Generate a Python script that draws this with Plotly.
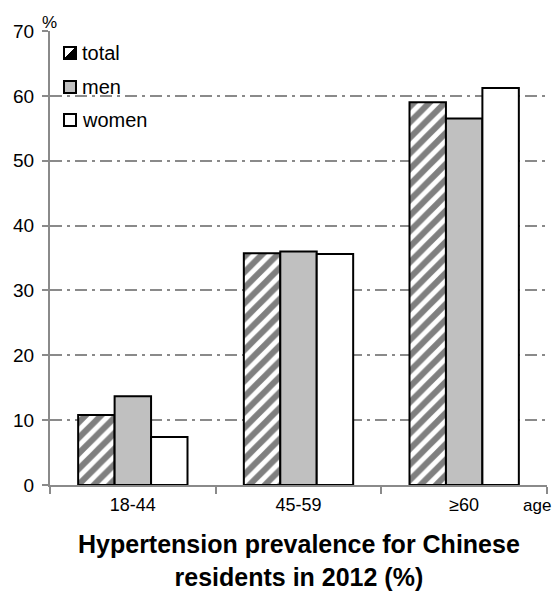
import plotly.graph_objects as go

categories = ["18-44", "45-59", "≥60"]
total = [10.8, 35.75, 59.0]
men = [13.7, 36.0, 56.5]
women = [7.4, 35.6, 61.2]
series_names = ["total", "men", "women"]

FONT = "Liberation Sans, Arial, sans-serif"
GRAY = "#8a8a8a"

fig = go.Figure()
fig.add_trace(go.Bar(
    x=categories, y=total, name=series_names[0],
    marker=dict(color="white", line=dict(color="black", width=2),
                pattern=dict(shape="/", fgcolor="black", bgcolor="white", size=11, solidity=0.55)),
))
fig.add_trace(go.Bar(
    x=categories, y=men, name=series_names[1],
    marker=dict(color="#c0c0c0", line=dict(color="black", width=2)),
))
fig.add_trace(go.Bar(
    x=categories, y=women, name=series_names[2],
    marker=dict(color="white", line=dict(color="black", width=2)),
))

fig.update_layout(
    width=553, height=592,
    margin=dict(l=50, r=6, t=31, b=107),
    plot_bgcolor="white", paper_bgcolor="white",
    font=dict(family=FONT, color="black", size=18),
    barmode="group", bargap=0.34, bargroupgap=0,
    showlegend=False,
    xaxis=dict(showline=True, linecolor=GRAY, linewidth=2,
               ticks="outside", tickson="boundaries", ticklen=7, tickcolor=GRAY,
               tickwidth=2, tickfont=dict(size=18), ticklabelstandoff=2),
    yaxis=dict(range=[0, 70], dtick=10, showline=True, linecolor=GRAY, linewidth=2,
               ticks="outside", ticklen=6, tickcolor=GRAY, tickwidth=2,
               showgrid=True, gridcolor=GRAY, gridwidth=2, griddash="12px,5px,3px,5px",
               tickfont=dict(size=19), zeroline=False, ticklabelstandoff=4),
)

# legend (drawn as swatches + text in the top-left of the plot)
rows = [22, 56, 89]
swatch_fill = ["white", "#c0c0c0", "white"]
for i, (name, r) in enumerate(zip(series_names, rows)):
    fig.add_shape(type="rect", xref="paper", yref="paper", xsizemode="pixel", ysizemode="pixel",
                  xanchor=0, yanchor=1, x0=14, x1=26, y0=-r - 6, y1=-r + 6,
                  fillcolor=swatch_fill[i], line=dict(color="black", width=2))
    if i == 0:
        fig.add_shape(type="path", xref="paper", yref="paper", xsizemode="pixel", ysizemode="pixel",
                      xanchor=0, yanchor=1,
                      path=f"M 14 {-r-6} L 26 {-r-6} L 26 {-r+6} Z",
                      fillcolor="black", line=dict(color="black", width=1))
    fig.add_annotation(x=0, y=1, xref="paper", yref="paper", text=name, showarrow=False,
                       xanchor="left", yanchor="middle", xshift=30, yshift=-r,
                       font=dict(size=20))

fig.add_annotation(x=0, y=1, xref="paper", yref="paper", text="%", showarrow=False,
                   xanchor="center", yanchor="middle", xshift=-1, yshift=9, font=dict(size=17))
fig.add_annotation(x=1, y=0, xref="paper", yref="paper", text="age", showarrow=False,
                   xanchor="right", yanchor="middle", xshift=6, yshift=-20, font=dict(size=17))
fig.add_annotation(x=0.5, y=0, xref="paper", yref="paper",
                   text="<b>Hypertension prevalence for Chinese<br>residents in 2012 (%)</b>",
                   showarrow=False, xanchor="center", yanchor="top", yshift=-44,
                   font=dict(size=25), borderpad=0)

fig.write_html("out.html", config={"displayModeBar": False},
               post_script="document.body.style.margin='0';")
